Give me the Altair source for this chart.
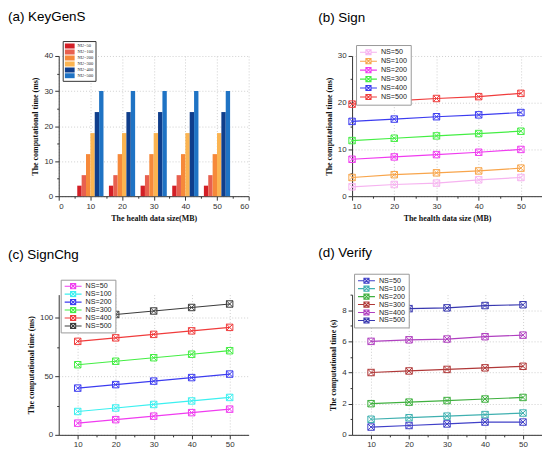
import altair as alt
import pandas as pd

# ---------------- data ----------------
sizes = [10, 20, 30, 40, 50]

# (a) KeyGenS bars (ms) - same for every data size
keygen_labels = ["NU=50", "NU=100", "NU=200", "NU=300", "NU=400", "NU=500"]
keygen_values = [3, 6, 12, 18, 24, 30]
keygen_colors = ["#d31f26", "#e8604f", "#f6893a", "#fbb451", "#0f3e8c", "#1f73c4"]

# (b) Sign (ms)
sign_labels = ["NS=50", "NS=100", "NS=200", "NS=300", "NS=400", "NS=500"]
sign_ns50 = [2.0, 2.5, 2.8, 3.5, 4.0]
sign_ns100 = [4.0, 4.6, 5.0, 5.4, 6.0]
sign_ns200 = [7.9, 8.4, 8.9, 9.4, 10.0]
sign_ns300 = [11.9, 12.4, 12.9, 13.4, 13.9]
sign_ns400 = [16.0, 16.5, 17.0, 17.4, 17.9]
sign_ns500 = [19.7, 20.4, 20.9, 21.3, 22.0]
sign_colors = ["#f6b3f0", "#f8a54b", "#f03cf0", "#44ee44", "#3c3cf0", "#f03c3c"]

# (c) SignChg (ms)
chg_labels = ["NS=50", "NS=100", "NS=200", "NS=300", "NS=400", "NS=500"]
chg_ns50 = [10, 13, 16, 19, 22]
chg_ns100 = [20, 23, 26, 29, 32]
chg_ns200 = [40, 43, 46, 49, 52]
chg_ns300 = [60, 63, 66, 69, 72]
chg_ns400 = [80, 83, 86, 89, 92]
chg_ns500 = [100, 103, 106, 109, 112]
chg_colors = ["#f03cf0", "#3cf0f0", "#3c3cf0", "#44ee44", "#f03c3c", "#3c3c3c"]

# (d) Verify (s)
ver_labels = ["NS=50", "NS=100", "NS=200", "NS=300", "NS=400", "NS=500"]
ver_ns50 = [0.5, 0.6, 0.7, 0.82, 0.82]
ver_ns100 = [1.0, 1.1, 1.2, 1.3, 1.4]
ver_ns200 = [2.0, 2.1, 2.2, 2.3, 2.4]
ver_ns300 = [4.0, 4.1, 4.2, 4.3, 4.4]
ver_ns400 = [6.0, 6.1, 6.15, 6.3, 6.4]
ver_ns500 = [8.0, 8.1, 8.15, 8.3, 8.35]
ver_colors = ["#4040c8", "#40b0b0", "#40b040", "#b03838", "#b040c0", "#3838b0"]

# ---------------- styling helpers ----------------
W, H = 191, 141
SANS = "Liberation Sans"
SERIF = "Liberation Serif"
MARK_PATH = "M-1,-1H1V1H-1ZM-1,-1L1,1M1,-1L-1,1"
LEG_PATH = ("M-1,0H-0.3M0.3,0H1M-0.3,-0.3H0.3V0.3H-0.3Z"
            "M-0.3,-0.3L0.3,0.3M0.3,-0.3L-0.3,0.3")


def axis(values, major, title):
    test = f"abs(datum.value % {major}) < 1e-9"
    return alt.Axis(
        values=values,
        title=title,
        labelExpr=f"{test} ? datum.label : ''",
        tickSize={"condition": {"test": test, "value": 4}, "value": 2},
        gridOpacity={"condition": {"test": test, "value": 1}, "value": 0},
        grid=True,
    )


def panel_title(text, dx, offset):
    return alt.TitleParams(text=text, anchor="start", frame="group", font=SANS,
                           fontSize=13.5, fontWeight="normal", color="black",
                           offset=offset, dx=dx)


def line_panel(name, labels, series, colors, ydom, yvals, ymajor, ytitle,
               xdom, xvals, xtitle, lx, ly, clip):
    rows = []
    for lab, vals in zip(labels, series):
        for s, v in zip(sizes, vals):
            rows.append({"size": s, name: lab, "time": v})
    df = pd.DataFrame(rows)
    legend = alt.Legend(title=None, orient="none", legendX=lx, legendY=ly,
                        symbolType=LEG_PATH, symbolSize=289, symbolStrokeWidth=1.1,
                        symbolFillColor="transparent", clipHeight=clip,
                        labelFont=SANS, labelFontSize=7.2, labelColor="#222",
                        strokeColor="#999", fillColor="white", padding=3,
                        rowPadding=0, labelOffset=3)
    color = alt.Color(f"{name}:N", sort=labels,
                      scale=alt.Scale(domain=labels, range=colors), legend=legend)
    x = alt.X("size:Q", scale=alt.Scale(domain=xdom, nice=False, zero=False),
              axis=axis(xvals, 10, xtitle))
    y = alt.Y("time:Q", scale=alt.Scale(domain=ydom, nice=False),
              axis=axis(yvals, ymajor, ytitle))
    base = alt.Chart(df)
    line = base.mark_line(strokeWidth=1.2).encode(x=x, y=y, color=color)
    pts = base.mark_point(shape=MARK_PATH, size=42, filled=False, strokeWidth=1,
                          opacity=1).encode(x=x, y=y, color=color)
    return alt.layer(line, pts).properties(width=W, height=H)


# (a) bar panel
rows = []
for i, (lab, v) in enumerate(zip(keygen_labels, keygen_values)):
    for s in sizes:
        rows.append({"size": s, "idx": i, "NU": lab, "time": v})
df_a = pd.DataFrame(rows)
legend_a = alt.Legend(title=None, orient="none", legendX=4, legendY=-15,
                      symbolType="M-1,-0.5H1V0.5H-1Z", symbolSize=100,
                      symbolStrokeWidth=0, clipHeight=6, labelFont=SERIF,
                      labelFontSize=4.5, labelColor="#222", strokeColor="#333",
                      fillColor="white", padding=2, rowPadding=0, labelOffset=3)
chart_a = alt.Chart(df_a).transform_calculate(
    x1="datum.size + (datum.idx - 3) * 1.38",
    x2="datum.size + (datum.idx - 2) * 1.38",
).mark_bar().encode(
    x=alt.X("x1:Q", scale=alt.Scale(domain=[0, 60], nice=False),
            axis=axis(list(range(0, 61, 5)), 10, "The health data size(MB)")),
    x2="x2:Q",
    y=alt.Y("time:Q", scale=alt.Scale(domain=[0, 40], nice=False),
            axis=axis(list(range(0, 41, 5)), 10, "The computational time (ms)")),
    y2=alt.datum(0),
    color=alt.Color("NU:N", sort=keygen_labels,
                    scale=alt.Scale(domain=keygen_labels, range=keygen_colors),
                    legend=legend_a),
).properties(width=W, height=H, title=panel_title("(a) KeyGenS", -51, 17.5))

chart_b = line_panel("NSb", sign_labels,
                     [sign_ns50, sign_ns100, sign_ns200, sign_ns300, sign_ns400, sign_ns500],
                     sign_colors, [0, 30], list(range(0, 31, 5)), 10,
                     "The computational time (ms)", [10, 55], list(range(10, 51, 5)),
                     "The health data size (MB)", 4, -11, 8.5
                     ).properties(title=panel_title("(b) Sign", -34, 20.5))

chart_c = line_panel("NSc", chg_labels,
                     [chg_ns50, chg_ns100, chg_ns200, chg_ns300, chg_ns400, chg_ns500],
                     chg_colors, [0, 120], [0, 25, 50, 75, 100], 50,
                     "The computational time (ms)", [5, 55], list(range(10, 51, 5)),
                     None, 2, -15, 7
                     ).properties(title=panel_title("(c) SignChg", -51, 17.5))

chart_d = line_panel("NSd", ver_labels,
                     [ver_ns50, ver_ns100, ver_ns200, ver_ns300, ver_ns400, ver_ns500],
                     ver_colors, [0, 9], list(range(0, 10)), 2,
                     "The computational time (s)", [5, 55], list(range(10, 51, 5)),
                     None, 2, -21, 8
                     ).properties(title=panel_title("(d) Verify", -34, 13.5))

chart = alt.concat(
    chart_a, chart_b, chart_c, chart_d, columns=2, bounds="flush",
    spacing=alt.RowColnumber(row=99, column=104),
).resolve_scale(color="independent").configure(
    padding={"left": 0, "top": 0, "right": 0, "bottom": 0}
).configure_view(stroke=None).configure_axis(
    domainColor="#333", tickColor="#333", labelColor="#333", labelFont=SANS,
    labelFontSize=8, titleFont=SERIF, titleFontWeight="bold", titleFontSize=8,
    titleColor="#111", gridColor="#cfcfcf", gridDash=[1, 2], labelPadding=2,
    titlePadding=4,
)

chart.save("out.html", embed_options={"renderer": "svg", "actions": False})
